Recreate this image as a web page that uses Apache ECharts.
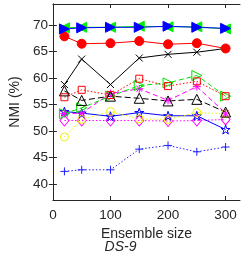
<!DOCTYPE html>
<html><head><meta charset="utf-8">
<script src="https://cdn.jsdelivr.net/npm/echarts@6/dist/echarts.min.js"></script>
<style>html,body{margin:0;padding:0;background:#fff}#c{width:241px;height:257px}</style>
</head><body><div id="c"></div>
<script>
const ensembleSizes = [20, 50, 100, 150, 200, 250, 300];
const yTicks = [40, 45, 50, 55, 60, 65, 70];
const xTicks = [0, 100, 200, 300];
const greenLeftTri = [69.5, 69.6, 69.6, 69.8, 69.7, 69.7, 69.3];
const blueRightTri = [69.3, 69.5, 69.6, 69.6, 69.8, 69.6, 69.4];
const redCircle = [67.9, 66.5, 66.6, 67.0, 66.4, 66.6, 65.6];
const blackX = [58.8, 63.6, 58.8, 63.8, 64.5, 64.9, 65.6];
const redSquare = [56.4, 57.8, 56.8, 59.9, 58.5, 59.4, 56.6];
const blackTri = [57.6, 55.8, 56.6, 56.2, 55.7, 56.0, 53.6];
const greenRightTri = [53.3, 54.4, 56.6, 58.6, 59.1, 60.5, 56.6];
const magentaStar = [53.3, 53.4, 57.1, 58.0, 55.8, 58.4, 53.4];
const yellowCircle = [48.9, 52.2, 53.7, 52.3, 52.2, 53.5, 53.3];
const bluePenta = [53.7, 53.4, 52.8, 53.5, 52.9, 52.9, 50.3];
const magentaDiamond = [52.0, 52.0, 52.0, 52.0, 51.9, 52.0, 52.2];
const bluePlus = [42.4, 42.7, 42.7, 46.6, 47.3, 46.1, 47.0];

const P = {
  x: 'path://M-1,-1L1,1M-1,1L1,-1',
  plus: 'path://M0,-1L0,1M-1,0L1,0',
  ast: 'path://M0,-1L0,1M-1,0L1,0M-0.7,-0.7L0.7,0.7M-0.7,0.7L0.7,-0.7',
  penta: 'path://M0,-1L0.225,-0.309L0.951,-0.309L0.363,0.118L0.588,0.809L0,0.382L-0.588,0.809L-0.363,0.118L-0.951,-0.309L-0.225,-0.309Z'
};
function pts(arr){ return ensembleSizes.map((x,i)=>[x,arr[i]]); }
function S(data, color, lineType, symbol, size, filled, rotate, lineColor){
  return {
    type:'line', data:pts(data), symbol:symbol, symbolSize:size, symbolRotate:rotate||0,
    showAllSymbol:true, animation:false,
    lineStyle:{color:lineColor||color, width:1, type:lineType},
    itemStyle:{color: filled ? color : 'rgba(0,0,0,0)', borderColor:color, borderWidth:1, opacity:1},
    emphasis:{disabled:true}
  };
}
const font = 'Liberation Sans, Arial, sans-serif';
const txt = '#262626';
const chart = echarts.init(document.getElementById('c'), null, {renderer:'canvas'});
chart.setOption({
  backgroundColor:'#fff',
  animation:false,
  grid:{left:44, top:4, right:1, bottom:57, containLabel:false},
  title:{text:'DS-9', left:'center', top:240, textStyle:{fontFamily:font, fontSize:14, fontStyle:'italic', fontWeight:'normal', color:txt}, padding:0},
  xAxis:[{
    type:'value', min:0, max:325, position:'bottom',
    name:'Ensemble size', nameLocation:'middle', nameGap:25,
    nameTextStyle:{fontFamily:font, fontSize:14, color:txt},
    axisLine:{show:true, lineStyle:{color:txt, width:1}},
    axisTick:{show:true, inside:true, length:4, customValues:xTicks, lineStyle:{color:txt}},
    axisLabel:{show:true, customValues:xTicks, margin:8, fontFamily:font, fontSize:13.5, color:txt},
    splitLine:{show:false}
  },{
    type:'value', min:0, max:325, position:'top',
    axisLine:{show:true, lineStyle:{color:txt, width:1}},
    axisTick:{show:true, inside:true, length:4, customValues:xTicks, lineStyle:{color:txt}},
    axisLabel:{show:false}, splitLine:{show:false}
  }],
  yAxis:[{
    type:'value', min:37, max:74, position:'left',
    name:'NMI (%)', nameLocation:'middle', nameGap:30,
    nameTextStyle:{fontFamily:font, fontSize:14, color:txt},
    axisLine:{show:true, lineStyle:{color:txt, width:1}},
    axisTick:{show:true, inside:true, length:4, customValues:yTicks, lineStyle:{color:txt}},
    axisLabel:{show:true, customValues:yTicks, margin:5, fontFamily:font, fontSize:13.5, color:txt},
    splitLine:{show:false}
  },{
    type:'value', min:37, max:74, position:'right',
    axisLine:{show:true, lineStyle:{color:txt, width:1}},
    axisTick:{show:true, inside:true, length:4, customValues:yTicks, lineStyle:{color:txt}},
    axisLabel:{show:false}, splitLine:{show:false}
  }],
  series:[
    S(bluePlus, '#2020ff', [1.5,2], P.plus, 8, false, 0),
    S(magentaDiamond, '#ff00ff', [1.5,2], 'diamond', [9,11], false, 0),
    S(bluePenta, '#0000ff', 'solid', P.penta, 9, false, 0),
    S(yellowCircle, '#f2f200', [1.5,2], 'circle', 8, false, 0),
    S(magentaStar, '#ff00ff', [5,3], P.ast, 8, false, 0),
    S(greenRightTri, '#00e000', [5,3], 'triangle', 10, false, -90),
    S(blackTri, '#000000', [6,3], 'triangle', 10, false, 0),
    S(redSquare, '#ff0000', [1.5,2], 'rect', 7, false, 0),
    S(blackX, '#000000', 'solid', P.x, 7, false, 0),
    S(redCircle, '#ff0000', 'solid', 'circle', 9, true, 0),
    S(greenLeftTri, '#00ee00', 'solid', 'triangle', 10, true, 90),
    S(blueRightTri, '#0000ff', 'solid', 'triangle', 10, true, -90)
  ]
});
</script></body></html>
